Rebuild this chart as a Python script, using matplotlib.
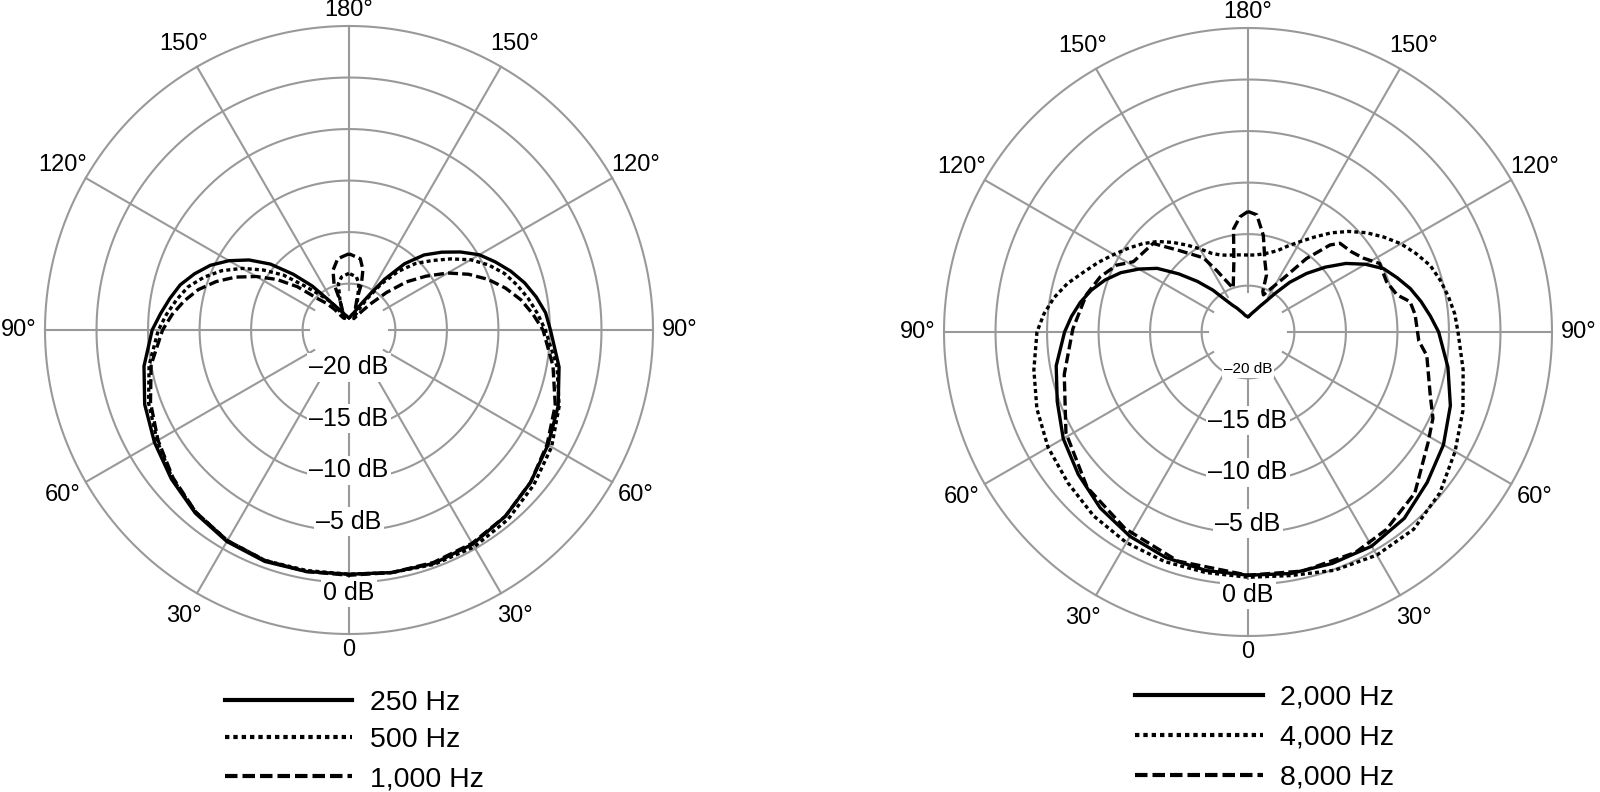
import numpy as np
import matplotlib
matplotlib.use('Agg')
import matplotlib.pyplot as plt
from matplotlib.lines import Line2D

plt.rcParams['font.family'] = ['Liberation Sans', 'DejaVu Sans']

# angles in degrees: 0 = front (bottom), positive = right half, +-180 = rear (top)
# levels in dB

# ---- left chart: 250 / 500 / 1,000 Hz
ang_250 = [-180, -175, -170, -165, -160, -155, -150, -145, -140, -135, -130, -125, -120, -115, -110, -105, -100, -95, -90,
           -80, -70, -60, -50, -40, -30, -20, -10, 0, 10, 20, 30, 40, 50, 60, 70, 80,
           90, 95, 100, 105, 110, 115, 120, 125, 130, 135, 140, 145, 150, 155, 160, 165, 170, 175, 180]
db_250 = [-23.3, -23.25, -23.1, -22.95, -22.7, -22.3, -21.8, -20.8, -18.9, -16.85, -14.55, -12.65, -11.05, -9.65, -8.55, -7.55, -6.85, -6.15, -5.4,
          -4.3, -3.4, -2.7, -2.0, -1.3, -0.8, -0.6, -0.7, -0.8, -0.6, -0.4, -0.5, -0.9, -1.5, -2.2, -2.9, -3.8,
          -4.95, -5.35, -6.05, -6.85, -7.8, -8.85, -9.9, -11.3, -12.75, -14.2, -16.1, -18.5, -20.6, -21.7, -22.4, -22.8, -23.0, -23.25, -23.3]

ang_500 = [-180, -172, -167, -163, -158, -155, -150, -145, -140, -135, -130, -125, -120, -115, -110, -105, -100, -95, -90,
           -80, -70, -60, -50, -40, -30, -20, -10, 0, 10, 20, 30, 40, 50, 60, 70, 80,
           90, 95, 100, 105, 110, 115, 120, 125, 130, 135, 140, 145, 150, 155, 158, 164, 168, 172, 180]
db_500 = [-19.0, -19.3, -19.9, -21.5, -23.2, -22.66, -21.8, -20.9, -19.97, -18.5, -16.22, -14.35, -12.54, -10.88, -9.52, -8.33, -7.52, -6.74, -6.0,
          -4.8, -3.8, -3.0, -2.1, -1.4, -0.9, -0.7, -0.8, -0.8, -0.6, -0.3, -0.2, -0.5, -1.1, -1.8, -2.8, -4.0,
          -5.45, -6.14, -6.84, -7.62, -8.45, -9.56, -10.87, -12.47, -14.02, -15.38, -17.08, -19.05, -21.0, -22.4, -23.2, -21.5, -19.9, -19.3, -19.0]

ang_1k = [-180, -171, -165, -162, -163, -159, -155, -150, -145, -140, -135, -130, -125, -120, -115, -110, -105, -100, -95, -90,
          -80, -70, -60, -50, -40, -30, -20, -10, 0, 10, 20, 30, 40, 50, 60, 70, 80,
          90, 95, 100, 105, 110, 115, 120, 125, 130, 135, 140, 145, 150, 157, 165.5, 165, 167, 171, 180]
db_1k = [-17.1, -17.5, -18.5, -19.8, -21.5, -23.3, -23.2, -22.85, -22.06, -21.13, -20.2, -17.96, -15.95, -14.12, -12.35, -10.77, -9.36, -8.26, -7.27, -6.41,
         -5.0, -4.0, -3.1, -2.2, -1.4, -0.9, -0.7, -0.7, -0.7, -0.6, -0.5, -0.6, -0.9, -1.5, -2.3, -3.2, -4.4,
         -5.67, -6.6, -7.57, -8.78, -10.14, -11.7, -13.44, -15.4, -17.24, -19.36, -21.1, -22.2, -22.85, -23.3, -21.5, -19.8, -18.5, -17.5, -17.1]

# ---- right chart: 2,000 / 4,000 / 8,000 Hz
ang_2k = [-180, -175, -170, -165, -160, -155, -150, -145, -140, -135, -130, -125, -120, -115, -110, -105, -100, -95, -90,
          -80, -70, -60, -50, -40, -30, -20, -10, 0, 10, 20, 30, 40, 50, 60, 70, 80,
          90, 95, 100, 105, 110, 115, 120, 125, 130, 135, 140, 145, 150, 155, 160, 165, 170, 175, 180]
db_2k = [-23.0, -22.97, -22.85, -22.6, -22.33, -21.93, -21.5, -20.7, -19.19, -17.55, -15.72, -13.73, -12.28, -10.88, -9.74, -8.77, -7.97, -7.3, -6.7,
         -5.6, -4.8, -3.8, -3.0, -2.2, -1.6, -1.2, -1.0, -0.9, -0.7, -0.6, -0.5, -0.9, -1.8, -2.6, -3.6, -4.8,
         -6.0, -6.74, -7.45, -8.2, -9.1, -9.97, -11.35, -12.9, -14.71, -16.47, -18.21, -19.94, -21.1, -21.73, -22.2, -22.5, -22.72, -22.92, -23.0]

ang_4k = [-180, -175, -170, -165, -160, -155, -150, -145, -140, -135, -130, -125, -120, -115, -110, -105, -100, -95, -90,
          -80, -70, -60, -50, -40, -30, -20, -10, 0, 10, 20, 30, 40, 50, 60, 70, 80,
          90, 95, 100, 105, 110, 115, 120, 125, 130, 135, 140, 145, 150, 155, 160, 165, 170, 175, 180]
db_4k = [-17.03, -16.99, -16.9, -16.79, -16.54, -16.06, -15.18, -14.21, -13.15, -12.08, -11.16, -10.33, -9.46, -8.49, -7.52, -6.35, -5.38, -4.61, -4.02,
         -3.4, -2.7, -2.1, -1.7, -1.2, -0.9, -0.8, -0.8, -0.7, -0.5, 0.1, 0.5, 0.5, -0.2, -1.3, -2.3, -3.3,
         -4.12, -4.36, -4.75, -5.17, -5.67, -6.5, -7.37, -8.43, -9.51, -10.7, -11.94, -13.25, -14.37, -15.28, -16.09, -16.54, -16.83, -17.0, -17.03]

ang_8k = [-180, -176, -172, -168.7, -161.4, -159, -153, -149, -140, -133, -121.5, -117, -110.5, -103, -91, -77, -61, -46, -32, -17,
          0, 13, 26, 35, 46, 58.5, 65, 71, 82.5, 87, 96, 100.6, 104, 110, 117.5, 122.6, 127.8, 134, 136.7, 141.5, 146.7, 157.5,
          160, 162, 166.4, 171, 175.7, 180]
db_8k = [-12.8, -13.3, -14.4, -17.5, -20.0, -19.6, -17.8, -16.1, -14.2, -11.9, -11.45, -10.2, -9.2, -8.4, -7.5, -6.2, -4.3, -2.8, -2.0, -1.25,
         -0.9, -0.7, -0.7, -1.1, -2.0, -4.0, -4.7, -5.8, -7.0, -7.9, -8.2, -8.5, -9.6, -10.2, -10.1, -11.2, -11.8, -12.1, -12.9, -15.4, -18.3, -20.6,
         -20.3, -18.7, -17.5, -15.0, -13.1, -12.8]

left_series = [(ang_250, db_250, '250 Hz', 'solid'),
               (ang_500, db_500, '500 Hz', 'dotted'),
               (ang_1k, db_1k, '1,000 Hz', 'dashed')]
right_series = [(ang_2k, db_2k, '2,000 Hz', 'solid'),
                (ang_4k, db_4k, '4,000 Hz', 'dotted'),
                (ang_8k, db_8k, '8,000 Hz', 'dashed')]

ring_levels = [-20, -15, -10, -5, 0, 5]
ring_label_levels = [-20, -15, -10, -5, 0]
ring_labels = ['\u201320 dB', '\u201315 dB', '\u201310 dB', '\u20135 dB', '0 dB']
spoke_angles = [-150, -120, -90, -60, -30, 0, 30, 60, 90, 120, 150, 180]
angle_labels = ['150°', '120°', '90°', '60°', '30°', '0', '30°', '60°', '90°', '120°', '150°', '180°']

GRID = '#999999'
R_MIN, R_MAX = -24.5, 5.0
W, H = 1600, 792

curve_ls = {'solid': '-', 'dotted': (0, (1.2, 0.95)), 'dashed': (0, (3.0, 1.25))}
legend_ls = {'solid': '-', 'dotted': (0, (1.05, 0.95)), 'dashed': (0, (3.0, 1.2))}


def polar_panel(cx, cy, series, small_first=False):
    R = 304
    rect = [(cx - R) / W, 1 - (cy + R) / H, 2 * R / W, 2 * R / H]
    ax = fig.add_axes(rect, projection='polar')
    ax.set_theta_zero_location('S')
    ax.set_theta_direction(1)
    ax.set_rlim(R_MIN, R_MAX)
    ax.axis('off')

    t = np.linspace(0, 2 * np.pi, 721)
    for lev in ring_levels:
        ax.plot(t, np.full_like(t, lev), color=GRID, lw=1.5, zorder=1, clip_on=False)
    for a in spoke_angles:
        ax.plot(np.deg2rad([a, a]), [-20.6, R_MAX], color=GRID, lw=1.5, zorder=1, clip_on=False)

    # dB labels on the front axis
    for i, (lev, lab) in enumerate(zip(ring_label_levels, ring_labels)):
        r = lev + 1.0 if lev == 0 else lev - 0.9
        fs = 11 if (small_first and i == 0) else 18
        ax.text(0, r, lab, ha='center', va='center', fontsize=fs, zorder=2,
                bbox=dict(boxstyle='square,pad=0.1', fc='white', ec='none'))

    # angle labels round the outside
    for a, lab in zip(spoke_angles, angle_labels):
        r = 6.6 if a in (0, 180) else 7.6
        ax.text(np.deg2rad(a), r, lab, ha='center', va='center', fontsize=17)

    for ang, db, lab, style in series:
        ax.plot(np.deg2rad(ang), db, color='black', lw=2.4, ls=curve_ls[style],
                zorder=3, clip_on=False, solid_joinstyle='round')
    return ax


def legend(x0, x1, xt, rows, series):
    for (ang, db, lab, style), y in zip(series, rows):
        fig.add_artist(Line2D([x0 / W, x1 / W], [1 - y / H, 1 - y / H], color='black',
                              lw=3.0, ls=legend_ls[style], transform=fig.transFigure))
        fig.text(xt / W, 1 - (y + 10) / H, lab, ha='left', va='baseline', fontsize=20.5)


fig = plt.figure(figsize=(W / 100, H / 100), dpi=100)

polar_panel(349, 330, left_series)
polar_panel(1248, 332, right_series, small_first=True)

legend(225, 352, 370, [700, 737, 776], left_series)
legend(1135, 1263, 1280, [695, 735, 775], right_series)

fig.savefig('out.png', dpi=100, facecolor='white')
